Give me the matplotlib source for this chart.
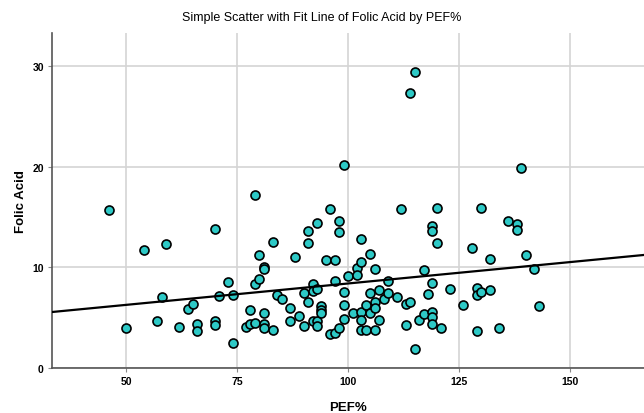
import numpy as np
import matplotlib.pyplot as plt

plt.rcParams['font.family'] = ['Liberation Sans', 'DejaVu Sans']

# PEF% and Folic Acid values
pef = [46, 50, 54, 57, 58, 59, 62, 64, 65, 66, 66, 70, 70, 70, 71, 73, 74,
       74, 79, 78, 77, 78, 79, 79, 80, 80, 81, 81, 81, 81, 81, 83, 83, 84, 85,
       87, 87, 88, 89, 90, 90, 91, 91, 91, 92, 92, 93, 93, 92, 93, 93, 94, 94,
       94, 95, 96, 96, 97, 97, 97, 98, 98, 98, 99, 99, 99, 99, 100, 101,
       102, 102, 103, 103, 103, 103, 103, 104, 104, 105, 105, 105, 106, 106,
       106, 106, 107, 107, 108, 109, 109, 111, 112, 113, 113, 114, 114, 115,
       115, 116, 117, 117, 118, 119, 119, 119, 119, 119, 119, 120, 120, 121,
       123, 126, 128, 129, 129, 129, 130, 130, 132, 132, 134, 136, 138, 138,
       139, 140, 142, 143]
folic = [15.7, 4.0, 11.7, 4.7, 7.0, 12.3, 4.1, 5.9, 6.4, 4.4, 3.7, 13.8, 4.7,
         4.3, 7.15, 8.5, 2.5,
         7.2, 17.2, 5.8, 4.1, 4.4, 4.5, 8.3, 8.8, 11.2, 10.0, 9.8, 5.5, 4.4,
         4.0, 12.5, 3.8, 7.25, 6.86, 6.0, 4.7, 11.0, 5.2, 7.4, 4.2, 13.6, 12.4,
         6.5, 8.3, 7.6, 14.4, 7.8, 4.7, 4.7, 4.2, 6.2, 5.8, 5.5, 10.7, 15.8,
         3.4, 10.7, 8.6, 3.5, 14.6, 13.5, 4.0, 20.2, 7.5, 6.3, 4.9, 9.1, 5.5,
         9.9, 9.2, 12.8, 10.5, 5.6, 4.8, 3.8, 6.3, 3.8, 11.3, 7.45, 5.5, 9.8,
         6.5, 6.0, 3.8, 7.7, 4.8, 6.8, 8.6, 7.45, 7.0, 15.8, 6.4, 4.3, 6.5,
         27.3, 29.4, 1.85, 4.8, 5.4, 9.7, 7.3, 14.1, 13.6, 8.45, 5.6, 5.1, 4.4,
         15.9, 12.4, 4.0, 7.8, 6.3, 11.9, 7.95, 7.25, 3.7, 15.9, 7.5, 10.8,
         7.75, 4.0, 14.6, 14.3, 13.7, 19.9, 11.2, 9.8, 6.2]
xticks = [50, 75, 100, 125, 150]
yticks = [0, 10, 20, 30]

fig = plt.figure(figsize=(6.44, 4.14), dpi=100)
ax = fig.add_axes([0.081, 0.109, 0.919, 0.809])

ax.grid(True, color='#d4d4d4', linewidth=1.2)
ax.set_axisbelow(True)

ax.scatter(pef, folic, s=42, facecolor='#2dc9c6', edgecolor='black',
           linewidth=1.2, zorder=3)

# linear fit line
slope, intercept = np.polyfit(pef, folic, 1)
xs = np.array([33.3, 166.7])
ax.plot(xs, intercept + slope * xs, color='black', linewidth=1.6, zorder=4)

ax.set_xlim(33.3, 166.7)
ax.set_ylim(0, 33.3)
ax.set_xticks(xticks)
ax.set_yticks(yticks)
ax.tick_params(labelsize=7.5, length=3, color='#888888', pad=3)
for lab in ax.get_xticklabels() + ax.get_yticklabels():
    lab.set_fontweight('bold')

for s in ['top', 'right']:
    ax.spines[s].set_visible(False)
for s in ['left', 'bottom']:
    ax.spines[s].set_color('#555555')
    ax.spines[s].set_linewidth(1.2)

ax.set_xlabel('PEF%', fontsize=9.5, fontweight='bold', labelpad=11)
ax.set_ylabel('Folic Acid', fontsize=9.5, fontweight='bold', labelpad=4)
fig.suptitle('Simple Scatter with Fit Line of Folic Acid by PEF%',
             fontsize=9, y=0.97)

fig.savefig('out.png', dpi=100)
